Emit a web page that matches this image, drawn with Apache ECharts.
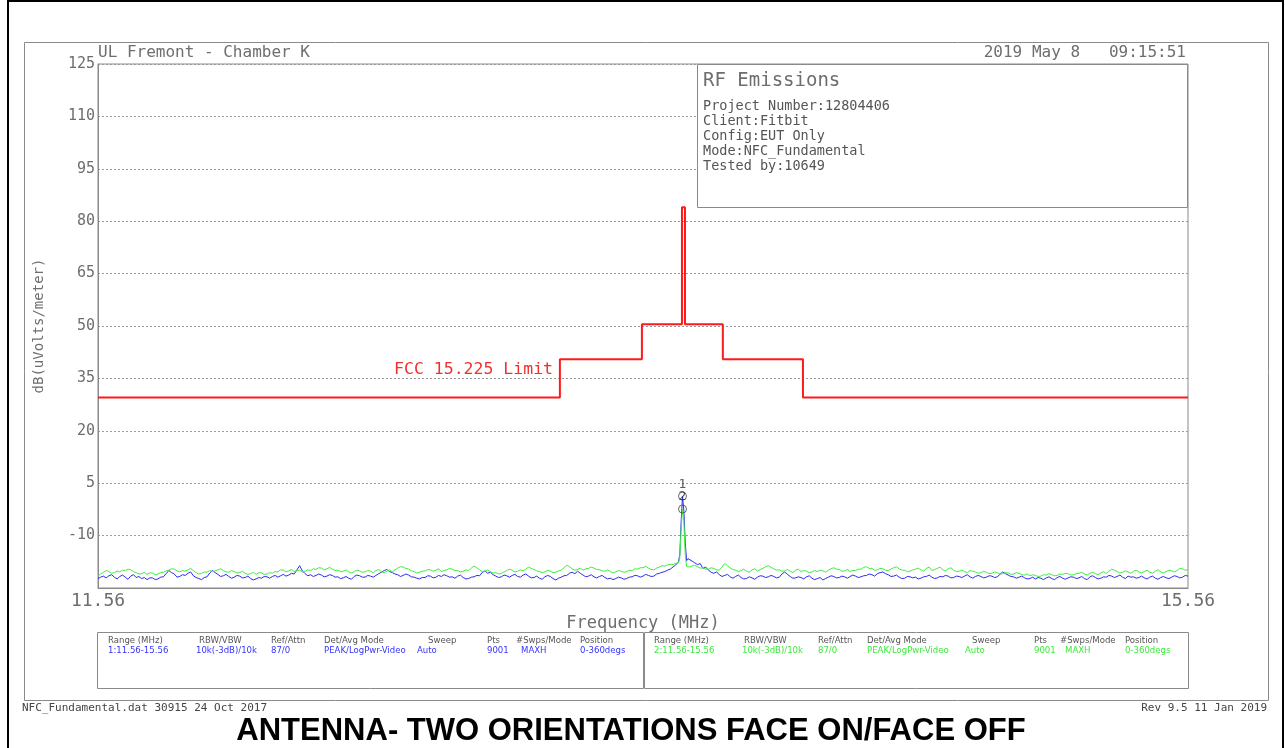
<!DOCTYPE html>
<html>
<head>
<meta charset="utf-8">
<script src="https://cdn.jsdelivr.net/npm/echarts@6/dist/echarts.min.js"></script>
<style>
html,body{margin:0;padding:0;background:#fff;}
#chart{width:1285px;height:748px;}
</style>
</head>
<body>
<div id="chart"></div>
<script>
// ---------------- DATA ----------------
const freqMHz = [
11.56,11.57,11.58,11.59,11.60,11.61,11.62,11.63,11.64,11.65,11.66,11.67,11.68,11.69,11.70,11.71,11.72,11.73,11.74,11.75,
11.76,11.77,11.78,11.79,11.80,11.81,11.82,11.83,11.84,11.85,11.86,11.87,11.88,11.89,11.90,11.91,11.92,11.93,11.94,11.95,
11.96,11.97,11.98,11.99,12.00,12.01,12.02,12.03,12.04,12.05,12.06,12.07,12.08,12.09,12.10,12.11,12.12,12.13,12.14,12.15,
12.16,12.17,12.18,12.19,12.20,12.21,12.22,12.23,12.24,12.25,12.26,12.27,12.28,12.29,12.30,12.31,12.32,12.33,12.34,12.35,
12.36,12.37,12.38,12.39,12.40,12.41,12.42,12.43,12.44,12.45,12.46,12.47,12.48,12.49,12.50,12.51,12.52,12.53,12.54,12.55,
12.56,12.57,12.58,12.59,12.60,12.61,12.62,12.63,12.64,12.65,12.66,12.67,12.68,12.69,12.70,12.71,12.72,12.73,12.74,12.75,
12.76,12.77,12.78,12.79,12.80,12.81,12.82,12.83,12.84,12.85,12.86,12.87,12.88,12.89,12.90,12.91,12.92,12.93,12.94,12.95,
12.96,12.97,12.98,12.99,13.00,13.01,13.02,13.03,13.04,13.05,13.06,13.07,13.08,13.09,13.10,13.11,13.12,13.13,13.14,13.15,
13.16,13.17,13.18,13.19,13.20,13.21,13.22,13.23,13.24,13.25,13.26,13.27,13.28,13.29,13.30,13.31,13.32,13.33,13.34,13.35,
13.36,13.37,13.38,13.39,13.40,13.41,13.42,13.43,13.44,13.45,13.46,13.47,13.48,13.49,13.50,13.51,13.52,13.53,13.54,13.55,
13.56,13.57,13.58,13.59,13.60,13.61,13.62,13.63,13.64,13.65,13.66,13.67,13.68,
13.69,13.695,13.70,13.705,13.71,13.715,13.72,13.725,13.73,13.74,
13.75,13.76,13.77,13.78,13.79,
13.80,13.81,13.82,13.83,13.84,13.85,13.86,13.87,13.88,13.89,13.90,13.91,13.92,13.93,13.94,13.95,13.96,13.97,13.98,13.99,
14.00,14.01,14.02,14.03,14.04,14.05,14.06,14.07,14.08,14.09,14.10,14.11,14.12,14.13,14.14,14.15,14.16,14.17,14.18,14.19,
14.20,14.21,14.22,14.23,14.24,14.25,14.26,14.27,14.28,14.29,14.30,14.31,14.32,14.33,14.34,14.35,14.36,14.37,14.38,14.39,
14.40,14.41,14.42,14.43,14.44,14.45,14.46,14.47,14.48,14.49,14.50,14.51,14.52,14.53,14.54,14.55,14.56,14.57,14.58,14.59,
14.60,14.61,14.62,14.63,14.64,14.65,14.66,14.67,14.68,14.69,14.70,14.71,14.72,14.73,14.74,14.75,14.76,14.77,14.78,14.79,
14.80,14.81,14.82,14.83,14.84,14.85,14.86,14.87,14.88,14.89,14.90,14.91,14.92,14.93,14.94,14.95,14.96,14.97,14.98,14.99,
15.00,15.01,15.02,15.03,15.04,15.05,15.06,15.07,15.08,15.09,15.10,15.11,15.12,15.13,15.14,15.15,15.16,15.17,15.18,15.19,
15.20,15.21,15.22,15.23,15.24,15.25,15.26,15.27,15.28,15.29,15.30,15.31,15.32,15.33,15.34,15.35,15.36,15.37,15.38,15.39,
15.40,15.41,15.42,15.43,15.44,15.45,15.46,15.47,15.48,15.49,15.50,15.51,15.52,15.53,15.54,15.55,15.56
];

// Trace 1 (blue), dB(uV/m)
const trace1Blue = [
-22.3,-21.9,-21.6,-22.1,-21.5,-21.2,-21.9,-22.4,-21.7,-21.3,-21.9,-22.5,-21.6,-21.2,-22.0,-21.7,-22.3,-22.0,-22.6,-22.1,
-22.1,-22.6,-22.4,-21.9,-21.8,-20.9,-20.0,-20.6,-21.0,-21.9,-21.7,-21.2,-21.4,-20.8,-20.4,-21.5,-22.0,-22.3,-22.6,-22.0,
-21.8,-20.7,-20.0,-20.6,-21.1,-21.7,-21.5,-21.1,-21.7,-22.2,-21.9,-21.4,-21.6,-22.1,-22.0,-21.6,-22.3,-22.7,-22.4,-22.0,
-22.2,-21.7,-21.8,-22.2,-21.7,-21.4,-21.9,-21.5,-21.1,-21.6,-21.3,-20.8,-21.0,-19.8,-18.6,-20.1,-20.9,-21.5,-21.2,-21.7,
-21.4,-21.0,-21.3,-21.8,-21.6,-21.2,-21.4,-21.9,-21.8,-22.3,-22.1,-21.7,-22.2,-22.5,-21.7,-21.3,-21.5,-21.9,-21.9,-21.4,
-21.6,-21.9,-21.4,-20.9,-20.5,-20.0,-19.7,-20.3,-20.6,-21.0,-21.2,-21.7,-21.4,-21.0,-21.3,-21.8,-21.9,-22.2,-22.4,-22.0,
-22.0,-21.5,-21.6,-22.1,-21.9,-21.4,-21.7,-21.2,-21.5,-21.9,-21.8,-22.2,-21.6,-21.3,-22.0,-22.4,-22.3,-21.9,-21.8,-21.4,
-21.5,-20.6,-20.1,-20.8,-20.5,-21.2,-21.6,-22.0,-21.8,-21.3,-21.5,-21.9,-21.4,-21.1,-21.7,-21.9,-21.3,-21.0,-21.6,-22.1,
-22.0,-21.6,-22.2,-22.5,-21.8,-21.4,-21.7,-22.3,-22.7,-22.2,-21.9,-21.5,-21.4,-20.8,-20.5,-20.9,-20.2,-20.8,-21.3,-21.8,
-21.6,-21.2,-21.8,-22.1,-21.7,-21.4,-22.0,-22.4,-22.2,-22.6,-22.3,-21.9,-22.1,-22.5,-22.3,-21.9,-21.8,-21.4,-21.5,-21.9,
-21.6,-21.1,-21.4,-21.7,-21.6,-21.0,-20.8,-20.5,-20.3,-19.9,-19.6,-19.0,-18.4,
-17.6,-15.5,-6.0,1.3,-3.0,-12.0,-17.2,-16.6,-16.9,-17.3,
-17.8,-18.3,-18.0,-19.4,-19.0,
-19.9,-20.5,-20.8,-20.4,-21.2,-21.7,-21.4,-21.1,-21.8,-22.2,-21.7,-21.3,-22.0,-22.4,-22.3,-21.8,-22.1,-22.5,-21.9,-21.5,
-21.6,-22.0,-21.8,-21.4,-21.7,-22.1,-21.9,-21.0,-20.4,-21.1,-21.7,-22.2,-22.1,-21.8,-22.0,-22.4,-21.8,-21.5,-22.2,-22.6,
-22.3,-22.0,-22.7,-22.3,-21.9,-21.5,-21.7,-22.1,-22.0,-21.6,-21.8,-22.2,-21.7,-21.3,-21.6,-22.0,-21.8,-21.5,-21.4,-21.0,
-21.2,-21.6,-20.9,-20.6,-20.4,-20.9,-21.2,-21.7,-21.6,-21.3,-21.9,-22.3,-22.2,-21.7,-21.8,-22.1,-21.9,-22.4,-22.2,-21.8,
-21.7,-21.3,-21.9,-22.3,-22.1,-21.7,-21.8,-21.4,-21.6,-22.1,-22.0,-21.6,-21.7,-22.0,-21.6,-21.2,-21.8,-22.2,-21.7,-21.4,
-21.7,-22.1,-21.9,-21.5,-21.6,-22.0,-21.8,-21.1,-20.4,-20.9,-21.3,-21.7,-21.8,-22.2,-21.9,-21.6,-22.1,-22.4,-22.3,-21.9,
-22.4,-22.0,-22.2,-22.6,-22.1,-21.8,-22.3,-22.6,-22.0,-21.7,-22.2,-22.5,-22.1,-21.8,-21.9,-22.3,-22.1,-21.7,-22.3,-22.6,
-21.8,-21.5,-22.0,-22.4,-22.2,-21.8,-21.9,-21.4,-21.6,-22.0,-21.7,-21.3,-21.9,-22.3,-21.6,-21.9,-21.8,-22.2,-22.0,-21.6,
-22.1,-22.4,-21.9,-21.6,-22.2,-22.5,-22.0,-21.7,-22.1,-22.3,-21.9,-21.5,-21.7,-22.1,-21.9,-21.4,-21.6
];

// Trace 2 (green), dB(uV/m)
const trace2Green = [
-21.6,-21.0,-20.5,-20.0,-20.3,-20.8,-20.6,-20.1,-20.4,-19.9,-20.0,-19.6,-19.8,-20.3,-20.6,-21.0,-20.9,-20.5,-21.1,-20.7,
-20.7,-21.2,-21.0,-20.6,-20.5,-20.1,-19.9,-19.5,-19.6,-20.1,-20.4,-20.0,-20.2,-19.8,-19.4,-20.0,-20.6,-21.0,-20.8,-20.4,
-20.5,-20.0,-20.3,-20.1,-19.8,-19.5,-20.0,-20.4,-20.5,-20.0,-20.3,-20.7,-20.6,-20.2,-20.8,-21.1,-20.9,-20.5,-21.1,-20.6,
-20.7,-21.1,-21.0,-20.6,-20.8,-20.3,-20.4,-19.8,-19.9,-20.4,-20.1,-19.7,-20.3,-20.0,-19.9,-20.4,-20.2,-19.8,-20.0,-19.5,
-19.7,-19.2,-19.3,-19.8,-19.5,-19.1,-19.6,-20.0,-19.9,-20.3,-20.2,-19.8,-20.4,-20.7,-20.3,-19.9,-20.1,-20.5,-20.4,-20.0,
-20.2,-20.6,-20.0,-19.7,-20.3,-20.6,-20.2,-19.8,-20.4,-19.8,-19.3,-18.9,-19.0,-19.4,-19.6,-20.1,-20.3,-20.7,-20.5,-20.2,
-20.1,-19.7,-19.8,-20.2,-19.9,-19.5,-20.3,-20.0,-19.8,-19.4,-19.6,-20.0,-20.0,-20.4,-20.2,-19.8,-20.0,-19.3,-18.7,-19.2,
-19.8,-20.3,-20.2,-19.8,-20.3,-20.7,-20.6,-21.0,-20.8,-20.4,-20.0,-19.6,-19.9,-20.4,-20.2,-19.8,-20.1,-19.6,-19.0,-19.4,
-19.7,-20.1,-20.3,-20.6,-20.4,-19.9,-20.2,-20.6,-20.5,-20.1,-19.9,-19.2,-18.5,-18.9,-19.5,-19.9,-19.7,-19.3,-19.9,-19.5,
-19.4,-19.0,-19.3,-19.7,-19.8,-20.1,-20.2,-19.8,-20.3,-20.7,-20.4,-20.0,-20.2,-20.5,-20.3,-19.9,-20.0,-19.5,-19.6,-19.2,
-19.2,-18.8,-19.3,-19.7,-19.8,-19.3,-19.0,-18.6,-18.7,-18.4,-18.2,-18.3,-17.9,
-17.8,-16.5,-8.0,-2.4,-6.0,-15.5,-18.8,-18.5,-19.0,-18.7,
-18.5,-18.9,-19.3,-19.2,-19.6,
-19.6,-19.2,-19.4,-19.8,-19.9,-19.0,-18.0,-18.6,-19.3,-19.7,-19.9,-20.3,-20.0,-19.6,-20.2,-20.5,-19.8,-19.5,-20.1,-19.7,
-19.4,-18.9,-18.6,-19.1,-19.5,-19.9,-19.8,-20.2,-20.1,-19.7,-20.2,-20.6,-19.9,-19.6,-20.3,-20.0,-20.2,-20.6,-20.4,-20.0,
-20.3,-19.9,-20.1,-20.5,-19.9,-19.5,-19.2,-19.6,-19.7,-20.2,-20.1,-19.7,-20.3,-20.0,-20.0,-19.6,-19.6,-19.1,-18.9,-19.4,
-19.4,-19.9,-19.8,-19.4,-19.5,-19.9,-20.0,-19.6,-19.2,-18.9,-19.5,-19.9,-19.9,-20.3,-20.2,-19.8,-19.6,-19.3,-19.8,-20.2,
-19.4,-19.0,-20.0,-19.7,-19.4,-19.0,-19.8,-20.1,-19.5,-19.2,-19.9,-20.3,-20.2,-19.9,-20.3,-20.6,-20.0,-20.2,-20.4,-20.8,
-20.6,-20.2,-20.5,-20.9,-20.8,-20.4,-20.6,-21.0,-20.9,-20.6,-20.7,-21.1,-21.0,-20.6,-20.8,-21.2,-21.3,-21.0,-21.5,-21.2,
-21.4,-21.7,-21.6,-21.2,-21.3,-20.9,-21.2,-21.5,-21.4,-21.0,-21.1,-20.8,-20.9,-21.3,-21.2,-20.9,-20.8,-20.5,-21.0,-21.3,
-20.8,-20.5,-20.9,-21.2,-20.7,-20.3,-20.9,-20.2,-19.6,-19.9,-20.3,-20.7,-20.5,-20.1,-20.4,-20.8,-20.2,-19.9,-20.4,-20.7,
-20.3,-19.9,-20.5,-20.8,-20.2,-19.8,-20.4,-20.7,-20.3,-19.9,-20.1,-20.4,-20.0,-19.4,-19.5,-19.9,-19.8
];

// FCC 15.225 limit (step line)
const limitFreqMHz = [11.56,13.255,13.255,13.556,13.556,13.703,13.703,13.714,13.714,13.853,13.853,14.147,14.147,15.56];
const limitLevel   = [29.5,29.5,40.5,40.5,50.5,50.5,84,84,50.5,50.5,40.5,40.5,29.5,29.5];

// Peak markers
const markerFreqMHz = [13.705, 13.705];
const markerLevel   = [1.3, -2.4];
const markerLabel   = ['1', '2'];

// Axis settings
const xAxisLabels = [11.56, 15.56];
const yMin = -25, yMax = 125, yStep = 15;

// Texts
const tableHeaders = ['Range (MHz)','RBW/VBW','Ref/Attn','Det/Avg Mode','Sweep','Pts','#Swps/Mode','Position'];
const table1Values = ['1:11.56-15.56','10k(-3dB)/10k','87/0','PEAK/LogPwr-Video','Auto','9001','MAXH','0-360degs'];
const table2Values = ['2:11.56-15.56','10k(-3dB)/10k','87/0','PEAK/LogPwr-Video','Auto','9001','MAXH','0-360degs'];
const infoLines = ['Project Number:12804406','Client:Fitbit','Config:EUT Only','Mode:NFC_Fundamental','Tested by:10649'];

// ---------------- CHART ----------------
const MONO = '"DejaVu Sans Mono", monospace';
const COND = '"DejaVu Sans Condensed", "DejaVu Sans", sans-serif';
const GRAY = '#6e6e6e';

function pairs(xs, ys) { return xs.map((x, i) => [x, ys[i]]); }

const chart = echarts.init(document.getElementById('chart'));

const hdrX1 = [108,199,271,324,428,487,516,580];
const valX1 = [108,196,271,324,417,487,521,580];
const hdrX2 = [654,744,818,867,972,1034,1060,1125];
const valX2 = [654,742,818,867,965,1034,1065,1125];

const graphics = [];
graphics.push({type:'polyline', shape:{points:[[8,748],[8,1],[1283,1],[1283,748]]}, style:{stroke:'#000', lineWidth:2, fill:null}, z:50});
graphics.push({type:'rect', shape:{x:24.5,y:42.5,width:1244,height:658}, style:{stroke:'#8a8a8a', lineWidth:1, fill:null}, z:50});
graphics.push({type:'text', x:98, y:53, style:{text:'UL Fremont - Chamber K', font:'16px '+MONO, fill:GRAY, textVerticalAlign:'middle'}, z:60});
graphics.push({type:'text', x:1186, y:53, style:{text:'2019 May 8   09:15:51', font:'16px '+MONO, fill:GRAY, textAlign:'right', textVerticalAlign:'middle'}, z:60});
graphics.push({type:'rect', shape:{x:697.5,y:64.5,width:490,height:143}, style:{stroke:'#8a8a8a', lineWidth:1, fill:'#fff'}, z:40});
graphics.push({type:'text', x:703, y:81, style:{text:'RF Emissions', font:'19px '+MONO, fill:GRAY, textVerticalAlign:'middle'}, z:60});
infoLines.forEach((t, i) => {
  graphics.push({type:'text', x:703, y:106 + i*15, style:{text:t, font:'13.5px '+MONO, fill:'#555', textVerticalAlign:'middle'}, z:60});
});
graphics.push({type:'text', x:553, y:370, style:{text:'FCC 15.225 Limit', font:'16.5px '+MONO, fill:'#f03030', textAlign:'right', textVerticalAlign:'middle'}, z:60});
graphics.push({type:'rect', shape:{x:97.5,y:632.5,width:546,height:56}, style:{stroke:'#8a8a8a', lineWidth:1, fill:null}, z:40});
graphics.push({type:'rect', shape:{x:644.5,y:632.5,width:544,height:56}, style:{stroke:'#8a8a8a', lineWidth:1, fill:null}, z:40});
tableHeaders.forEach((t, i) => {
  graphics.push({type:'text', x:hdrX1[i], y:641, style:{text:t, font:'9.5px '+COND, fill:'#555', textVerticalAlign:'middle'}, z:60});
  graphics.push({type:'text', x:hdrX2[i], y:641, style:{text:t, font:'9.5px '+COND, fill:'#555', textVerticalAlign:'middle'}, z:60});
});
table1Values.forEach((t, i) => {
  graphics.push({type:'text', x:valX1[i], y:651, style:{text:t, font:'9.5px '+COND, fill:'#3434ff', textVerticalAlign:'middle'}, z:60});
});
table2Values.forEach((t, i) => {
  graphics.push({type:'text', x:valX2[i], y:651, style:{text:t, font:'9.5px '+COND, fill:'#3de83d', textVerticalAlign:'middle'}, z:60});
});
graphics.push({type:'text', x:22, y:708, style:{text:'NFC_Fundamental.dat 30915 24 Oct 2017', font:'11px '+MONO, fill:'#444', textVerticalAlign:'middle'}, z:60});
graphics.push({type:'text', x:1267, y:708, style:{text:'Rev 9.5 11 Jan 2019', font:'11px '+MONO, fill:'#444', textAlign:'right', textVerticalAlign:'middle'}, z:60});
graphics.push({type:'text', x:631, y:731, style:{text:'ANTENNA- TWO ORIENTATIONS FACE ON/FACE OFF', font:'bold 31px "Liberation Sans", Arial, sans-serif', fill:'#000', textAlign:'center', textVerticalAlign:'middle'}, z:60});

chart.setOption({
  animation: false,
  backgroundColor: '#fff',
  grid: {left:98, top:64, width:1090, height:524, show:true, borderColor:'#8a8a8a', borderWidth:1, backgroundColor:'transparent'},
  xAxis: {
    type:'value', min:11.56, max:15.56,
    axisLine:{show:true, onZero:false, lineStyle:{color:'#8a8a8a', width:1}},
    axisTick:{show:false},
    splitLine:{show:false},
    axisLabel:{customValues:xAxisLabels, color:GRAY, fontSize:18, fontFamily:MONO, margin:4,
      formatter: v => v.toFixed(2)},
    name:'Frequency (MHz)', nameLocation:'middle', nameGap:24,
    nameTextStyle:{color:GRAY, fontSize:17, fontFamily:MONO}
  },
  yAxis: {
    type:'value', min:yMin, max:yMax, interval:yStep,
    axisLine:{show:true, lineStyle:{color:'#8a8a8a', width:1}},
    axisTick:{show:false},
    splitLine:{show:true, lineStyle:{color:'#9a9a9a', type:[2,2], width:1}},
    axisLabel:{color:GRAY, fontSize:15, fontFamily:MONO, margin:3,
      formatter: v => (v === yMin ? '' : String(v))},
    name:'dB(uVolts/meter)', nameLocation:'middle', nameGap:52, nameRotate:90,
    nameTextStyle:{color:GRAY, fontSize:14, fontFamily:MONO}
  },
  series: [
    {name:'FCC 15.225 Limit', type:'line', data:pairs(limitFreqMHz, limitLevel), showSymbol:false, symbol:'none',
     lineStyle:{color:'#ff1a1a', width:2}, z:5},
    {name:'Trace 1', type:'line', data:pairs(freqMHz, trace1Blue), showSymbol:false, symbol:'none',
     lineStyle:{color:'#2b2bf5', width:1}, z:3},
    {name:'Trace 2', type:'line', data:pairs(freqMHz, trace2Green), showSymbol:false, symbol:'none',
     lineStyle:{color:'#3cf03c', width:1}, z:4},
    {name:'Markers', type:'scatter', data:markerFreqMHz.map((f,i)=>({value:[f, markerLevel[i]], label:{formatter:markerLabel[i]}})),
     symbol:'circle', symbolSize:8, itemStyle:{color:'transparent', borderColor:'#444', borderWidth:1},
     label:{show:true, position:'top', distance:1, color:'#333', fontSize:13, fontFamily:MONO}, z:6}
  ],
  graphic: graphics
});
</script>
</body>
</html>
